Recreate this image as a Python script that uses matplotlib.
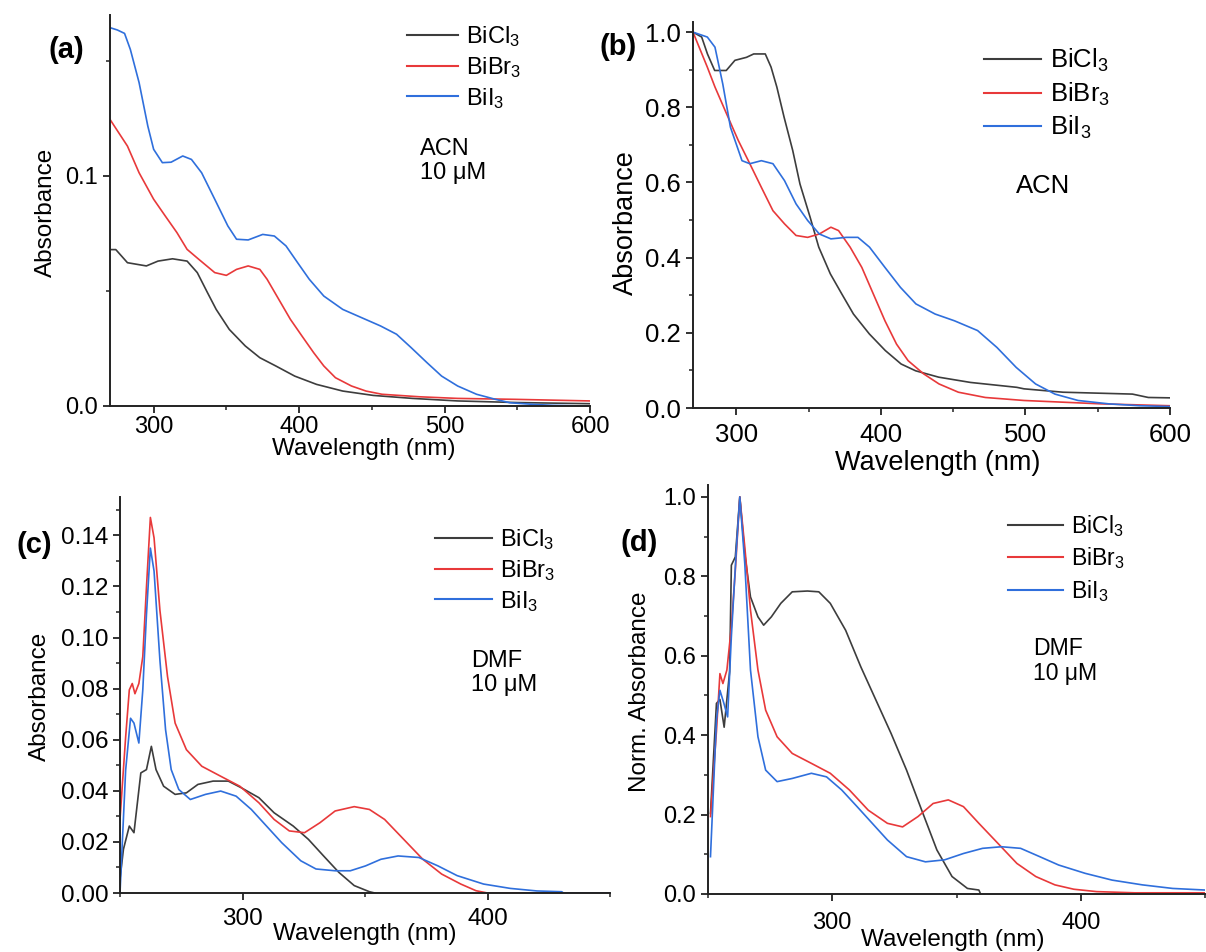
import matplotlib
matplotlib.use('Agg')
import matplotlib.pyplot as plt
from matplotlib.ticker import MultipleLocator

plt.rcParams['font.family'] = ['Liberation Sans', 'DejaVu Sans']
plt.rcParams['mathtext.fontset'] = 'custom'
plt.rcParams['mathtext.rm'] = 'Liberation Sans'
plt.rcParams['mathtext.default'] = 'regular'

W, H = 1206, 952

labels = ['BiCl$_3$', 'BiBr$_3$', 'BiI$_3$']
colors = ['#3d3d3d', '#e8393a', '#2f6fdc']

# (a) ACN, 10 uM
a_cl_x = [270, 274, 282, 295, 303, 313, 323, 330, 337, 343, 352, 363, 373, 384, 397, 412, 430, 451, 478, 509, 550, 600]
a_cl_y = [0.068, 0.068, 0.0623, 0.0609, 0.063, 0.064, 0.063, 0.058, 0.0493, 0.042, 0.0333, 0.0261, 0.021, 0.0174,
          0.013, 0.0094, 0.0065, 0.0046, 0.0033, 0.0022, 0.0015, 0.001]
a_br_x = [270, 282, 290, 300, 308, 316, 323, 331, 342, 350, 357, 365, 373, 378, 386, 394, 402, 410, 417, 425, 436,
          446, 457, 483, 509, 548, 600]
a_br_y = [0.1246, 0.113, 0.1014, 0.0899, 0.0826, 0.0754, 0.0681, 0.0638, 0.058, 0.0568, 0.0594, 0.0609, 0.0594,
          0.0551, 0.0464, 0.0377, 0.0304, 0.0232, 0.0174, 0.0123, 0.0087, 0.0065, 0.0051, 0.004, 0.0033, 0.0029, 0.0022]
a_i_x = [270, 275, 280, 284, 290, 296, 300, 306, 312, 320, 326, 333, 342, 351, 357, 365, 375, 383, 391, 399, 407,
         417, 430, 443, 456, 467, 477, 488, 498, 509, 522, 535, 545, 561, 574, 595, 600]
a_i_y = [0.1645, 0.1635, 0.162, 0.155, 0.1406, 0.1217, 0.1116, 0.1058, 0.106, 0.1087, 0.1072, 0.1014, 0.0899,
         0.0783, 0.0725, 0.0722, 0.0746, 0.0739, 0.0696, 0.0623, 0.0551, 0.0478, 0.042, 0.0384, 0.0348, 0.0312,
         0.0254, 0.0188, 0.013, 0.0087, 0.0051, 0.0029, 0.0014, 0.0007, 0.0003, 0.0, 0.0]

# (b) ACN, normalised
b_cl_x = [270, 276, 280, 285, 293, 299, 307, 312, 320, 324, 328, 333, 339, 344, 351, 357, 365, 373, 381, 392, 403,
          414, 424, 440, 462, 494, 499, 526, 574, 585, 600]
b_cl_y = [1.0, 0.987, 0.942, 0.898, 0.898, 0.925, 0.933, 0.942, 0.942, 0.907, 0.854, 0.774, 0.685, 0.596, 0.508,
          0.428, 0.357, 0.303, 0.25, 0.197, 0.153, 0.117, 0.099, 0.082, 0.068, 0.055, 0.051, 0.042, 0.037, 0.028, 0.027]
b_br_x = [270, 279.9, 285.2, 293.2, 301.3, 309.3, 317.3, 325.3, 333.3, 341.3, 349.3, 357.4, 365.4, 370.7, 378.7,
          386.8, 394.8, 402.8, 410.8, 418.8, 429.5, 440.2, 453.6, 472.2, 499, 552.4, 600]
b_br_y = [1.0, 0.907, 0.854, 0.783, 0.712, 0.65, 0.587, 0.525, 0.49, 0.459, 0.454, 0.463, 0.481, 0.472, 0.428,
          0.374, 0.303, 0.232, 0.17, 0.126, 0.091, 0.064, 0.042, 0.028, 0.02, 0.011, 0.006]
b_i_x = [270, 279.9, 285.2, 290.6, 295.9, 303.9, 309.3, 317.3, 325.3, 333.3, 341.3, 349.3, 357.4, 365.4, 376.1,
         384.1, 392.1, 402.8, 413.5, 424.2, 437.5, 450.9, 466.9, 480.3, 493.6, 507, 520.4, 536.4, 557.7, 579.1, 600]
b_i_y = [1.0, 0.987, 0.96, 0.862, 0.747, 0.658, 0.65, 0.658, 0.65, 0.605, 0.543, 0.499, 0.463, 0.45, 0.454, 0.454,
         0.428, 0.374, 0.321, 0.277, 0.25, 0.232, 0.206, 0.161, 0.108, 0.064, 0.037, 0.02, 0.011, 0.006, 0.004]

# (c) DMF, 10 uM
c_cl_x = [250, 251.4, 253.8, 255.7, 258.5, 260.8, 262.8, 264.7, 267.8, 272.5, 277.1, 281.8, 288, 294.2, 299.5,
          306.7, 312.9, 320.7, 326.9, 333.1, 339.3, 345.6, 351.8, 354]
c_cl_y = [0.0055, 0.0171, 0.0262, 0.0236, 0.047, 0.0483, 0.0574, 0.0483, 0.0418, 0.0386, 0.0392, 0.0425, 0.0438,
          0.0438, 0.0412, 0.0373, 0.0314, 0.0262, 0.021, 0.0145, 0.0081, 0.0029, 0.0005, 0.0]
c_br_x = [250, 252.3, 253.8, 255, 256.1, 257.7, 259.3, 260.8, 262.4, 263.9, 266.3, 269.4, 272.5, 277.1, 283.4,
          291.1, 298.9, 306.7, 312.9, 319.1, 325.3, 331.6, 337.8, 345.6, 351.8, 358, 365.8, 373.6, 381.3, 389.1,
          395.3, 400, 450]
c_br_y = [0.0288, 0.061, 0.0795, 0.082, 0.078, 0.082, 0.0925, 0.1197, 0.147, 0.139, 0.1106, 0.0847, 0.0665, 0.0561,
          0.0496, 0.0457, 0.0418, 0.0353, 0.0288, 0.0243, 0.0236, 0.0275, 0.0321, 0.0338, 0.0327, 0.0288, 0.021,
          0.0132, 0.0074, 0.0035, 0.0009, 0.0, 0.0]
c_i_x = [250, 252.3, 254.3, 255.7, 257.7, 259.3, 260.8, 262.4, 263.9, 266.3, 268.6, 270.9, 274, 278.7, 284.9,
         291.1, 297.4, 303.6, 309.8, 316, 323.8, 330, 337.8, 344, 350.2, 356.5, 363.5, 372, 379.8, 387.6, 398.4,
         409.3, 420.2, 430.3, 431, 450]
c_i_y = [0.0, 0.048, 0.0684, 0.0665, 0.0587, 0.0795, 0.109, 0.135, 0.126, 0.091, 0.0639, 0.0483, 0.0405, 0.0366,
         0.0386, 0.0399, 0.0379, 0.0327, 0.0262, 0.0197, 0.0126, 0.0094, 0.0087, 0.0087, 0.0106, 0.0132, 0.0145,
         0.0139, 0.0106, 0.0068, 0.0035, 0.0018, 0.0008, 0.0005, 0.0, 0.0]

# (d) DMF, normalised
d_cl_x = [251, 253.4, 254.8, 256.5, 258.7, 259.4, 261, 262.8, 264.8, 267.1, 270.1, 272.4, 275.5, 279.3, 283.9, 290,
          294.6, 299.2, 305.4, 311.5, 317.6, 323.7, 329.9, 336, 342.1, 348.2, 354.4, 359, 359.7]
d_cl_y = [0.203, 0.48, 0.49, 0.42, 0.56, 0.828, 0.849, 1.0, 0.857, 0.748, 0.698, 0.677, 0.698, 0.732, 0.761, 0.763,
          0.761, 0.732, 0.664, 0.572, 0.488, 0.404, 0.312, 0.211, 0.111, 0.044, 0.014, 0.01, 0.0]
d_br_x = [251, 253.4, 254.8, 256, 257.6, 259.4, 261, 262.8, 264.8, 267.1, 270.1, 273.2, 277.8, 283.9, 291.6, 299.2,
          306.9, 314.5, 322.2, 328.3, 334.5, 340.6, 346.7, 352.8, 359, 366.6, 374.3, 381.9, 389.6, 397.2, 406.4,
          421.7, 450]
d_br_y = [0.195, 0.41, 0.555, 0.53, 0.564, 0.673, 0.815, 1.0, 0.874, 0.715, 0.564, 0.463, 0.396, 0.354, 0.329,
          0.304, 0.262, 0.211, 0.178, 0.169, 0.195, 0.228, 0.237, 0.22, 0.178, 0.128, 0.077, 0.044, 0.023, 0.012,
          0.006, 0.003, 0.003]
d_i_x = [251, 253.4, 254.8, 256.4, 257.9, 259.4, 261.3, 262.8, 264.8, 267.1, 270.1, 273.2, 277.8, 283.9, 291.6,
         297.7, 303.8, 310, 316.1, 322.2, 329.9, 337.5, 345.2, 352.8, 360.5, 368.1, 375.8, 383.5, 391.1, 401.8,
         412.6, 424.8, 437, 450]
d_i_y = [0.094, 0.438, 0.513, 0.48, 0.446, 0.648, 0.857, 1.0, 0.832, 0.564, 0.396, 0.312, 0.283, 0.291, 0.304,
         0.295, 0.262, 0.22, 0.178, 0.136, 0.094, 0.081, 0.086, 0.102, 0.115, 0.119, 0.115, 0.094, 0.073, 0.052,
         0.035, 0.023, 0.014, 0.01]


fig = plt.figure(figsize=(W / 100, H / 100), dpi=100)


# make an axes from pixel box (left, top, right, bottom)
def make_axes(box):
    l, t, r, b = box
    return fig.add_axes([l / W, 1 - b / H, (r - l) / W, (b - t) / H])


# pixel position -> axes fraction
def frac(box, px, py):
    l, t, r, b = box
    return (px - l) / (r - l), (b - py) / (b - t)


def panel(box, series, xlim, ylim, xmaj, ymaj, ymin, tick_fs, lab_fs, ylabel, xlab_px, ylab_px,
          leg_px, leg_fs, leg_hl, leg_sp, note, note_px, tag, tag_px, yfmt):
    ax = make_axes(box)
    for (x, y), c, lab in zip(series, colors, labels):
        ax.plot(x, y, color=c, lw=1.2, label=lab)
    ax.set_xlim(*xlim)
    ax.set_ylim(*ylim)
    ax.xaxis.set_major_locator(MultipleLocator(xmaj))
    ax.xaxis.set_minor_locator(MultipleLocator(xmaj / 2))
    ax.yaxis.set_major_locator(MultipleLocator(ymaj))
    ax.yaxis.set_minor_locator(MultipleLocator(ymin))
    ax.yaxis.set_major_formatter(yfmt)
    for s in ['top', 'right']:
        ax.spines[s].set_visible(False)
    for s in ['left', 'bottom']:
        ax.spines[s].set_linewidth(1.4)
        ax.spines[s].set_color('#222222')
    ax.tick_params(which='major', direction='out', length=5, width=1.3, labelsize=tick_fs, color='#222222')
    ax.tick_params(which='minor', direction='out', length=3, width=1.1, color='#222222')
    ax.tick_params(axis='x', pad=xlab_px[2])
    ax.set_xlabel('Wavelength (nm)', fontsize=lab_fs)
    ax.set_ylabel(ylabel, fontsize=lab_fs)
    ax.xaxis.set_label_coords(*frac(box, xlab_px[0], xlab_px[1]))
    ax.yaxis.set_label_coords(*frac(box, ylab_px[0], ylab_px[1]))
    ax.xaxis.label.set_va('center')
    ax.yaxis.label.set_va('center')
    leg = ax.legend(loc='upper left', bbox_to_anchor=frac(box, leg_px[0], leg_px[1]), frameon=False,
                    fontsize=leg_fs, handlelength=leg_hl, handletextpad=0.35, labelspacing=leg_sp,
                    borderpad=0, borderaxespad=0)
    for ln in leg.get_lines():
        ln.set_linewidth(1.5)
    ax.text(*frac(box, note_px[0], note_px[1]), note, transform=ax.transAxes, fontsize=leg_fs,
            ha='left', va='top', linespacing=1.1)
    fig.text(tag_px[0] / W, 1 - tag_px[1] / H, tag, fontsize=21, fontweight='bold',
             ha='center', va='center')
    return ax


fmt1 = plt.FuncFormatter(lambda v, p: f'{v:.1f}')
fmt2 = plt.FuncFormatter(lambda v, p: f'{v:.2f}')

box_a = (110, 15, 590, 406)
box_b = (693, 22, 1170, 408)
box_c = (120, 497, 610, 893)
box_d = (708, 485, 1205, 894)

panel(box_a, [(a_cl_x, a_cl_y), (a_br_x, a_br_y), (a_i_x, a_i_y)],
      (270, 600), (0, 0.17), 100, 0.1, 0.05, 17, 17.5, 'Absorbance',
      (364, 449, 2.5), (46, 212), (407, 24), 17, 2.15, 0.25, 'ACN\n10 μM', (420, 138),
      '(a)', (66, 50), fmt1)

panel(box_b, [(b_cl_x, b_cl_y), (b_br_x, b_br_y), (b_i_x, b_i_y)],
      (270, 600), (0, 1.027), 100, 0.2, 0.1, 18.5, 19.5, 'Absorbance',
      (938, 463, 6), (626, 223), (984, 47), 18.5, 2.2, 0.25, 'ACN', (1016, 174),
      '(b)', (618, 47), fmt1)

panel(box_c, [(c_cl_x, c_cl_y), (c_br_x, c_br_y), (c_i_x, c_i_y)],
      (250, 450), (0, 0.155), 100, 0.02, 0.01, 17.5, 17.5, 'Absorbance',
      (365, 934, 6), (40, 696), (435, 527), 17, 2.4, 0.25, 'DMF\n10 μM', (471, 650),
      '(c)', (34, 545), fmt2)

panel(box_d, [(d_cl_x, d_cl_y), (d_br_x, d_br_y), (d_i_x, d_i_y)],
      (250, 450), (0, 1.03), 100, 0.2, 0.1, 17, 17.5, 'Norm. Absorbance',
      (953, 940, 8), (640, 692), (1008, 513), 16.6, 2.4, 0.28, 'DMF\n10 μM', (1033, 637),
      '(d)', (639, 543), fmt1)

fig.savefig('out.png', dpi=100)
